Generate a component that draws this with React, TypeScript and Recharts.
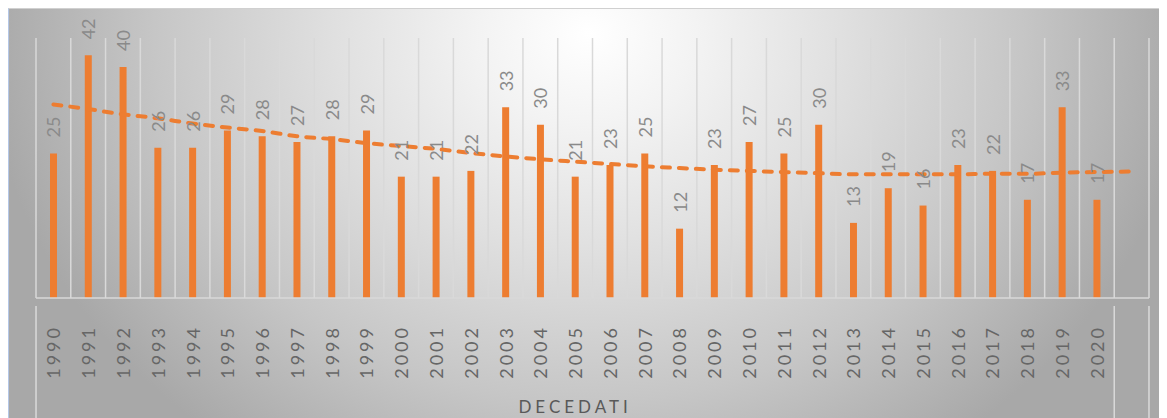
import { ComposedChart, Bar, Line, XAxis, YAxis, CartesianGrid, LabelList } from 'recharts';

const YEARS = [
  '1990', '1991', '1992', '1993', '1994', '1995', '1996', '1997', '1998', '1999',
  '2000', '2001', '2002', '2003', '2004', '2005', '2006', '2007', '2008', '2009',
  '2010', '2011', '2012', '2013', '2014', '2015', '2016', '2017', '2018', '2019',
  '2020', '',
];

const DECEDATI = [
  25, 42, 40, 26, 26, 29, 28, 27, 28, 29,
  21, 21, 22, 33, 30, 21, 23, 25, 12, 23,
  27, 25, 30, 13, 19, 16, 23, 22, 17, 33,
  17,
];

// trendline (one point per category, incl. the empty one)
const TREND = [
  33.5, 32.7, 31.8, 31.1, 30.2, 29.5, 28.9, 28.0, 27.5, 26.8,
  26.3, 25.8, 25.1, 24.5, 24.0, 23.6, 23.2, 22.8, 22.5, 22.2,
  22.0, 21.8, 21.6, 21.4, 21.4, 21.4, 21.4, 21.5, 21.5, 21.7,
  21.8, 21.9,
];

const AXIS_TITLE = 'DECEDATI';

const data = YEARS.map((year, i) => ({
  year,
  decedati: DECEDATI[i],
  trend: TREND[i],
}));

const ORANGE = '#ed7d31';
const GRID = '#d9d9d9';
const FONT = 'Lato, "Open Sans", sans-serif';

function YearTick(props: any) {
  const { x, y, payload, index } = props;
  const band = 1112 / YEARS.length;
  const longLine = (lx: number) => (
    <line x1={lx} y1={y} x2={lx} y2={y + 114} stroke={GRID} strokeWidth={1.5} />
  );
  return (
    <g>
      {index === 0 && longLine(x - band / 2)}
      {index === YEARS.length - 1 && longLine(x - band / 2)}
      {index === YEARS.length - 1 && longLine(x + band / 2)}
      {payload.value && (
        <text
          x={x}
          y={y + 19}
          transform={`rotate(-90, ${x}, ${y + 19})`}
          textAnchor="end"
          dominantBaseline="central"
          fill="#666666"
          fontSize={18}
          fontFamily={FONT}
          letterSpacing={3}
        >
          {payload.value}
        </text>
      )}
      {index === 15 && (
        <text
          x={x}
          y={y + 100}
          textAnchor="middle"
          dominantBaseline="central"
          fill="#595959"
          fontSize={17}
          fontFamily={FONT}
          letterSpacing={4}
        >
          {AXIS_TITLE}
        </text>
      )}
    </g>
  );
}

function ValueLabel(props: any) {
  const { x, y, width, value } = props;
  if (value == null) return null;
  const cx = x + width / 2;
  const ty = y - 16;
  return (
    <text
      x={cx}
      y={ty}
      transform={`rotate(-90, ${cx}, ${ty})`}
      textAnchor="start"
      dominantBaseline="central"
      fill="#8a8a8a"
      fontSize={18}
      fontFamily={FONT}
    >
      {value}
    </text>
  );
}

export default function App() {
  return (
    <>
      <style>{'html,body{overflow:hidden}'}</style>
      <div
        style={{
          width: 1159,
          height: 410,
          boxSizing: 'border-box',
          borderTop: '1px solid #d0d0d0',
          borderLeft: '1px solid #b4c7e7',
          background:
            'radial-gradient(ellipse 52% 125% at 50% 6%, #ffffff 0%, #f3f3f3 18%, #e0e0e0 42%, #c6c6c6 72%, #a8a8a8 100%)',
        }}
      >
        <ComposedChart
          width={1158}
          height={409}
          data={data}
          margin={{ top: 29, right: 18, left: 27, bottom: 0 }}
          barSize={7}
        >
          <CartesianGrid
            horizontal={false}
            stroke={GRID}
            strokeWidth={1.5}
            verticalCoordinatesGenerator={({ offset }: any) =>
              Array.from({ length: YEARS.length + 1 }, (_, i) => offset.left + (i * offset.width) / YEARS.length)
            }
          />
          <XAxis
            dataKey="year"
            interval={0}
            height={120}
            tickLine={false}
            axisLine={{ stroke: GRID, strokeWidth: 1.5 }}
            tick={<YearTick />}
          />
          <YAxis hide domain={[0, 45]} />
          <Bar dataKey="decedati" fill={ORANGE} isAnimationActive={false}>
            <LabelList dataKey="decedati" content={<ValueLabel />} />
          </Bar>
          <Line
            dataKey="trend"
            type="monotone"
            stroke={ORANGE}
            strokeWidth={4}
            strokeDasharray="8 9"
            strokeLinecap="round"
            dot={false}
            activeDot={false}
            isAnimationActive={false}
          />
        </ComposedChart>
      </div>
    </>
  );
}
